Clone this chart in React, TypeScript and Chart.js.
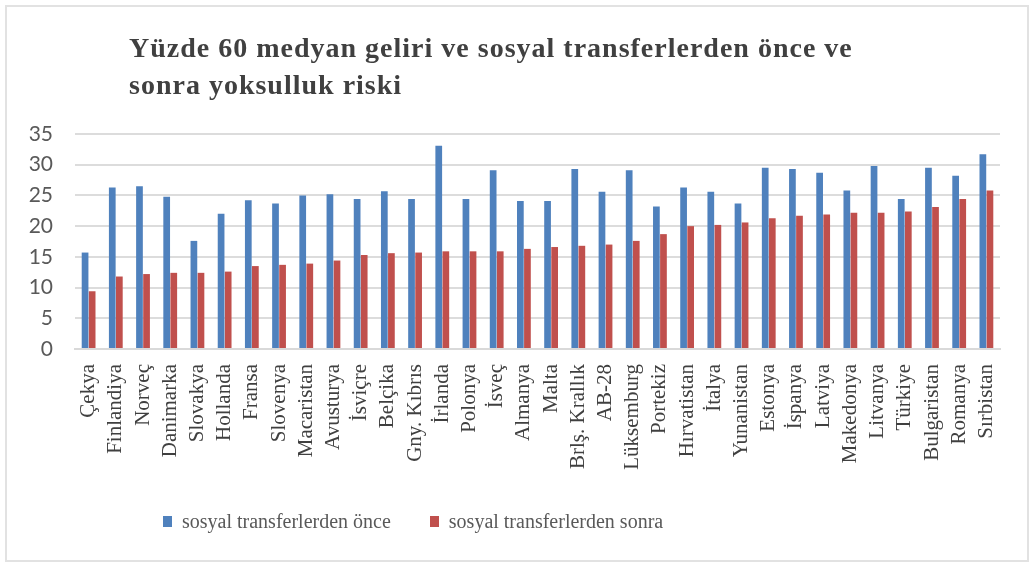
import React, { useEffect, useRef } from "react";
import { Chart, registerables } from "chart.js";

Chart.register(...registerables);

const categories = [
  "Çekya", "Finlandiya", "Norveç", "Danimarka", "Slovakya", "Hollanda", "Fransa",
  "Slovenya", "Macaristan", "Avusturya", "İsviçre", "Belçika", "Gny. Kıbrıs",
  "İrlanda", "Polonya", "İsveç", "Almanya", "Malta", "Brlş. Krallık", "AB-28",
  "Lüksemburg", "Portekiz", "Hırvatistan", "İtalya", "Yunanistan", "Estonya",
  "İspanya", "Latviya", "Makedonya", "Litvanya", "Türkiye", "Bulgaristan",
  "Romanya", "Sırbistan",
];

const beforeTransfers = [
  15.7, 26.3, 26.5, 24.8, 17.6, 22.0, 24.2, 23.7, 25.0, 25.2, 24.4, 25.7, 24.4,
  33.1, 24.4, 29.1, 24.1, 24.1, 29.3, 25.6, 29.1, 23.2, 26.3, 25.6, 23.7, 29.5,
  29.3, 28.7, 25.8, 29.8, 24.4, 29.5, 28.2, 31.7,
];

const afterTransfers = [
  9.4, 11.8, 12.2, 12.4, 12.4, 12.6, 13.5, 13.7, 13.9, 14.4, 15.3, 15.6, 15.7,
  15.9, 15.9, 15.9, 16.3, 16.6, 16.8, 17.0, 17.6, 18.7, 20.0, 20.2, 20.6, 21.3,
  21.7, 21.9, 22.2, 22.2, 22.4, 23.1, 24.4, 25.8,
];

const seriesLabels = ["sosyal transferlerden önce", "sosyal transferlerden sonra"];
const seriesColors = ["#4F81BD", "#C0504D"];
const titleLines = ["Yüzde 60 medyan geliri ve sosyal transferlerden önce ve", "sonra yoksulluk riski"];

export default function App() {
  const ref = useRef<HTMLCanvasElement | null>(null);

  useEffect(() => {
    document.body.style.margin = "0";
    if (!ref.current) return;
    const chart = new Chart(ref.current, {
      type: "bar",
      data: {
        labels: categories,
        datasets: [
          {
            label: seriesLabels[0],
            data: beforeTransfers,
            backgroundColor: seriesColors[0],
            categoryPercentage: 0.52,
            barPercentage: 0.95,
          },
          {
            label: seriesLabels[1],
            data: afterTransfers,
            backgroundColor: seriesColors[1],
            categoryPercentage: 0.52,
            barPercentage: 0.95,
          },
        ],
      },
      options: {
        animation: false,
        responsive: false,
        maintainAspectRatio: false,
        layout: { padding: { left: 5, right: 30, top: 134, bottom: 84 } },
        plugins: {
          title: { display: false },
          tooltip: { enabled: false },
          legend: { display: false },
        },
        scales: {
          x: {
            grid: { display: false },
            border: { display: true, color: "#d9d9d9", width: 2 },
            ticks: {
              minRotation: 90,
              maxRotation: 90,
              autoSkip: false,
              padding: 7,
              color: "#404040",
              font: { family: "'Liberation Serif', serif", size: 21 },
            },
            afterFit: (scale: any) => {
              scale.height = 130;
            },
          },
          y: {
            min: 0,
            max: 35,
            border: { display: false },
            grid: { color: "#dcdcdc", lineWidth: 2, drawTicks: false },
            ticks: {
              stepSize: 5,
              autoSkip: false,
              padding: 22,
              color: "#595959",
              font: { family: "Lato, sans-serif", size: 21 },
            },
            afterFit: (scale: any) => {
              scale.width = 70;
            },
          },
        },
      },
    });
    return () => chart.destroy();
  }, []);

  return (
    <div style={{ position: "absolute", left: 0, top: 0, width: 1030, height: 563, background: "#fff", overflow: "hidden" }}>
      <canvas ref={ref} width={1030} height={563} style={{ position: "absolute", left: 0, top: 0, width: 1030, height: 563 }} />
      <div
        style={{
          position: "absolute",
          left: 129,
          top: 29,
          fontFamily: "'Liberation Serif', serif",
          fontWeight: "bold",
          fontSize: 28,
          letterSpacing: "1px",
          lineHeight: "37px",
          color: "#404040",
          whiteSpace: "nowrap",
        }}
      >
        {titleLines.map((l, i) => (
          <div key={i}>{l}</div>
        ))}
      </div>
      <div
        style={{
          position: "absolute",
          left: 163,
          top: 508,
          display: "flex",
          alignItems: "center",
          fontFamily: "'Liberation Serif', serif",
          fontSize: 20,
          lineHeight: "26px",
          color: "#595959",
          whiteSpace: "nowrap",
        }}
      >
        {seriesLabels.map((l, i) => (
          <div key={i} style={{ display: "flex", alignItems: "center", marginRight: i === 0 ? 39 : 0 }}>
            <span style={{ display: "inline-block", width: 9, height: 11, background: seriesColors[i], marginRight: 10 }} />
            <span>{l}</span>
          </div>
        ))}
      </div>
      <div
        style={{
          position: "absolute",
          left: 5,
          top: 5,
          width: 1024,
          height: 557,
          border: "2px solid #e2e2e2",
          boxSizing: "border-box",
          pointerEvents: "none",
        }}
      />
    </div>
  );
}
